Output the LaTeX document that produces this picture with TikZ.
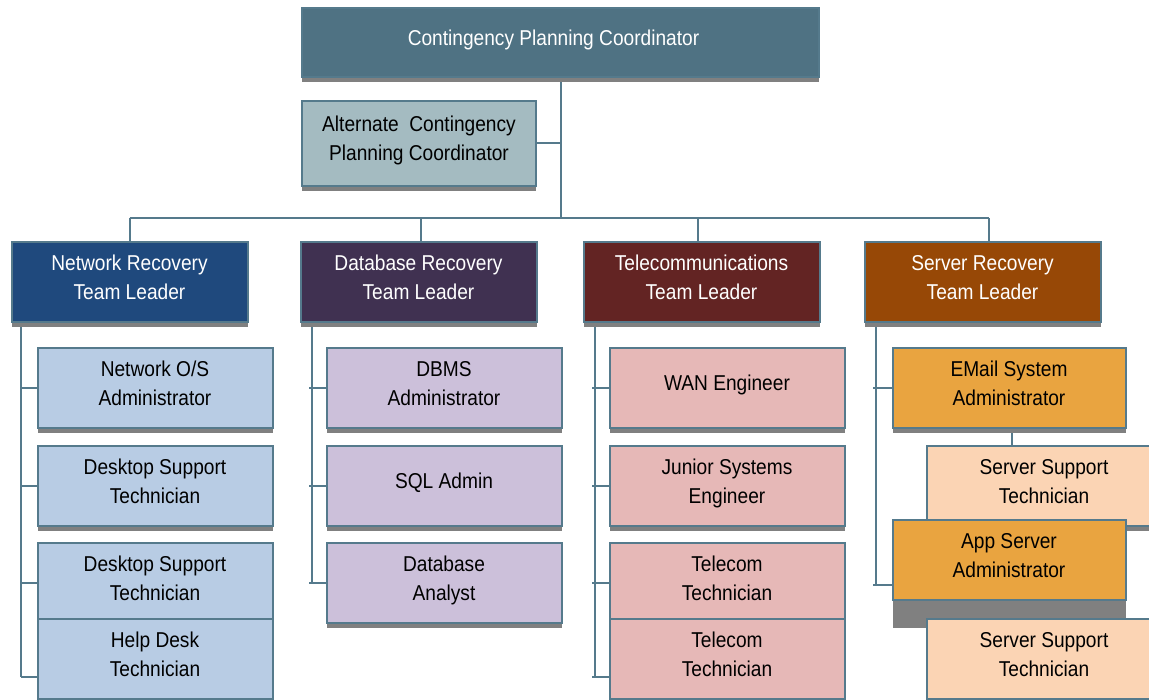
\documentclass[tikz,border=0pt]{standalone}
\usepackage{fontspec}
\setmainfont[FakeStretch=0.89]{Liberation Sans}
\usepackage{xcolor}
\usepackage{tikz}
\usetikzlibrary{positioning, shadows, backgrounds}

\definecolor{linecol}{HTML}{557A8C}
\definecolor{shadowcol}{HTML}{808080}
\definecolor{headcol}{HTML}{4F7283}
\definecolor{altcol}{HTML}{A4BBC1}
\definecolor{netlead}{HTML}{1F497D}
\definecolor{netstaff}{HTML}{B8CCE4}
\definecolor{dblead}{HTML}{403151}
\definecolor{dbstaff}{HTML}{CCC0DA}
\definecolor{tellead}{HTML}{632423}
\definecolor{telstaff}{HTML}{E6B8B7}
\definecolor{srvlead}{HTML}{974806}
\definecolor{srvadmin}{HTML}{E9A440}
\definecolor{srvstaff}{HTML}{FBD4B4}

\begin{document}
\begin{tikzpicture}[x=1pt, y=-1pt, box/.style={rectangle, draw=linecol, line width=2pt, outer sep=0pt, inner sep=2pt, minimum width=235pt, minimum height=80pt, align=center, text depth=10pt, font=\fontsize{21.5}{29}\selectfont, drop shadow={shadow xshift=0pt, shadow yshift=-5pt, fill=shadowcol, opacity=1}}, head/.style={box, fill=headcol, text=white, minimum width=517pt, minimum height=69pt}, alt/.style={box, fill=altcol, minimum width=234pt, minimum height=85pt}, lead/.style={box, text=white, minimum width=236pt}, deepshadow/.style={drop shadow={shadow xshift=0pt, shadow yshift=-28pt, fill=shadowcol, opacity=1}}, link/.style={draw=linecol, line width=2pt}]

    \path[use as bounding box, clip] (0,0) rectangle (1149,700);

    %Nodes
    \node[head](cpc) at (560.5,42.5){Contingency Planning Coordinator\hspace*{14pt}};
    \node[alt](acpc)[below right=24pt and 0pt of cpc.south west]{Alternate\ \ Contingency\\Planning Coordinator};
    \coordinate (bus) at (0,218);
    \node[lead, fill=netlead](net_lead) at (129.5,282){Network Recovery\\Team Leader};
    \node[lead, fill=dblead](db_lead)[right=53pt of net_lead]{Database Recovery\\Team Leader};
    \node[lead, fill=tellead](tel_lead)[right=47pt of db_lead]{Telecommunications\\Team Leader};
    \node[lead, fill=srvlead](srv_lead)[right=45pt of tel_lead]{Server Recovery\\Team Leader};

    \node[box, fill=netstaff](net_os)[below right=26pt and 26pt of net_lead.south west]{Network O/S\\Administrator};
    \node[box, fill=netstaff](desk_a)[below=18pt of net_os]{Desktop Support\\Technician};
    \node[box, fill=netstaff](desk_b)[below=17pt of desk_a]{Desktop Support\\Technician};
    \node[box, fill=netstaff](help_desk)[below=-4pt of desk_b]{Help Desk\\Technician};

    \node[box, fill=dbstaff](dbms)[below right=26pt and 26pt of db_lead.south west]{DBMS\\Administrator};
    \node[box, fill=dbstaff](sql)[below=18pt of dbms]{SQL Admin};
    \node[box, fill=dbstaff](db_analyst)[below=17pt of sql]{Database\\Analyst};

    \node[box, fill=telstaff](wan)[below right=26pt and 26pt of tel_lead.south west]{WAN Engineer};
    \node[box, fill=telstaff](jr_sys)[below=18pt of wan]{Junior Systems\\Engineer};
    \node[box, fill=telstaff](tel_tech_a)[below=17pt of jr_sys]{Telecom\\Technician};
    \node[box, fill=telstaff](tel_tech_b)[below=-4pt of tel_tech_a]{Telecom\\Technician};

    \node[box, fill=srvadmin, minimum width=233pt](email)[below right=26pt and 28pt of srv_lead.south west]{EMail System\\Administrator};
    \node[box, fill=srvstaff](srv_tech_a)[below right=18pt and 34pt of email.south west]{Server Support\\Technician};
    \node[box, fill=srvadmin, minimum width=233pt, deepshadow](app)[below right=92pt and 0pt of email.south west]{App Server\\Administrator};
    \node[box, fill=srvstaff](srv_tech_b)[below right=19pt and 34pt of app.south west]{Server Support\\Technician};

    %Lines
    \begin{scope}[on background layer]
    \draw[link] (cpc.south) -- (cpc.south |- bus);
    \draw[link] (acpc.east) -- (acpc.east -| cpc.south);
    \draw[link] (net_lead.north |- bus) -- ([xshift=6pt]srv_lead.north |- bus);
    \draw[link] (net_lead.north) -- (net_lead.north |- bus);
    \draw[link] ([xshift=2pt]db_lead.north) -- ([xshift=2pt]db_lead.north |- bus);
    \draw[link] ([xshift=-4pt]tel_lead.north) -- ([xshift=-4pt]tel_lead.north |- bus);
    \draw[link] ([xshift=6pt]srv_lead.north) -- ([xshift=6pt]srv_lead.north |- bus);

    \coordinate (net_spine) at ([xshift=9pt]net_lead.south west);
    \coordinate (help_tick) at ([yshift=-18pt]help_desk.west);
    \draw[link] (net_spine) -- (net_spine |- help_tick);
    \draw[link] (net_os.west) -- (net_os.west -| net_spine);
    \draw[link] (desk_a.west) -- (desk_a.west -| net_spine);
    \draw[link] (desk_b.west) -- (desk_b.west -| net_spine);
    \draw[link] (help_tick) -- (help_tick -| net_spine);

    \coordinate (db_spine) at ([xshift=11pt]db_lead.south west);
    \draw[link] (db_spine) -- (db_spine |- db_analyst.west);
    \draw[link] (dbms.west) -- ([xshift=-3pt]dbms.west -| db_spine);
    \draw[link] (sql.west) -- ([xshift=-3pt]sql.west -| db_spine);
    \draw[link] (db_analyst.west) -- ([xshift=-3pt]db_analyst.west -| db_spine);

    \coordinate (tel_spine) at ([xshift=11pt]tel_lead.south west);
    \coordinate (tel_tick) at ([yshift=-18pt]tel_tech_b.west);
    \draw[link] (tel_spine) -- (tel_spine |- tel_tick);
    \draw[link] (wan.west) -- ([xshift=-3pt]wan.west -| tel_spine);
    \draw[link] (jr_sys.west) -- ([xshift=-3pt]jr_sys.west -| tel_spine);
    \draw[link] (tel_tech_a.west) -- ([xshift=-3pt]tel_tech_a.west -| tel_spine);
    \draw[link] (tel_tick) -- ([xshift=-3pt]tel_tick -| tel_spine);

    \coordinate (srv_spine) at ([xshift=11pt]srv_lead.south west);
    \coordinate (app_tick) at ([yshift=-25pt]app.west);
    \draw[link] (srv_spine) -- (srv_spine |- app_tick);
    \draw[link] (email.west) -- ([xshift=-3pt]email.west -| srv_spine);
    \draw[link] (app_tick) -- ([xshift=-3pt]app_tick -| srv_spine);
    \draw[link] ([xshift=3pt]email.south) -- ([xshift=3pt]email.south |- srv_tech_a.north);
    \end{scope}
\end{tikzpicture}
\end{document}
